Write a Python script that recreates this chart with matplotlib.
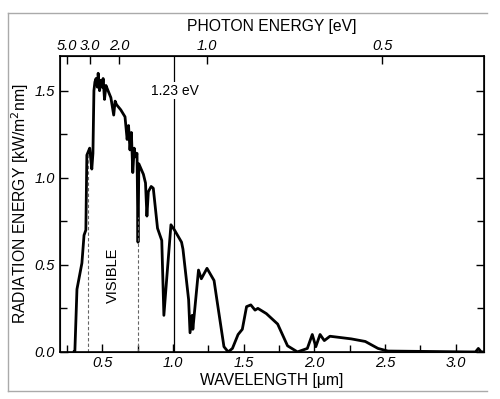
import numpy as np
import matplotlib
matplotlib.use("Agg")
import matplotlib.pyplot as plt
from matplotlib.ticker import MultipleLocator, FixedLocator
from matplotlib.lines import Line2D

plt.rcParams["font.family"] = ["Liberation Sans", "DejaVu Sans"]

# solar spectrum
wavelength = [0.300, 0.305, 0.320, 0.355, 0.370, 0.383, 0.390, 0.400, 0.410, 0.425,
              0.433, 0.440, 0.447, 0.455, 0.465, 0.470, 0.480, 0.490, 0.500, 0.505,
              0.515, 0.525, 0.540, 0.560, 0.580, 0.590, 0.600, 0.630, 0.660, 0.675,
              0.685, 0.695, 0.705, 0.715, 0.725, 0.735, 0.745, 0.752, 0.758, 0.790,
              0.805, 0.815, 0.825, 0.845, 0.860, 0.890, 0.920, 0.935, 0.955, 0.985,
              1.010, 1.060, 1.070, 1.110, 1.120, 1.135, 1.140, 1.180, 1.200, 1.240,
              1.290, 1.310, 1.360, 1.390, 1.420, 1.460, 1.490, 1.520, 1.550, 1.580,
              1.600, 1.660, 1.740, 1.810, 1.880, 1.950, 1.985, 2.010, 2.040, 2.070,
              2.110, 2.260, 2.360, 2.450, 2.520, 3.100, 3.140, 3.160, 3.180, 3.200]
radiation = [0.00, 0.00, 0.36, 0.51, 0.67, 0.70, 1.13, 1.15, 1.17, 1.05,
             1.14, 1.50, 1.55, 1.57, 1.52, 1.60, 1.50, 1.56, 1.52, 1.57,
             1.45, 1.53, 1.50, 1.46, 1.36, 1.44, 1.42, 1.39, 1.35, 1.22,
             1.30, 1.16, 1.26, 1.03, 1.17, 1.12, 1.14, 0.63, 1.08, 1.02,
             0.97, 0.78, 0.92, 0.95, 0.94, 0.71, 0.64, 0.21, 0.42, 0.73,
             0.70, 0.63, 0.59, 0.30, 0.11, 0.21, 0.13, 0.47, 0.42, 0.48,
             0.41, 0.30, 0.03, 0.00, 0.02, 0.10, 0.13, 0.26, 0.27, 0.24,
             0.25, 0.22, 0.16, 0.035, 0.00, 0.02, 0.10, 0.03, 0.10, 0.065,
             0.09, 0.075, 0.06, 0.02, 0.005, 0.00, 0.00, 0.02, 0.00, 0.00]

visible_edges = [0.40, 0.75]
energy_ticks = [5.0, 3.0, 2.0, 1.0, 0.5]
energy_labels = ["5.0", "3.0", "2.0", "1.0", "0.5"]
gap_ev = 1.23
HC = 1.2398  # eV * um

fig = plt.figure(figsize=(5.0, 3.99), dpi=100)
ax = fig.add_axes([0.12, 0.118, 0.848, 0.742])

ax.plot(wavelength, radiation, color="black", lw=2.0)

# visible range markers
for w in visible_edges:
    top = np.interp(w, wavelength, radiation)
    ax.plot([w, w], [0, top], color="#666666", lw=0.8, ls=(0, (3, 2)))
ax.text(0.575, 0.44, "VISIBLE", rotation=90, ha="center", va="center", fontsize=10.5)

# band gap line
ax.axvline(HC / gap_ev, color="black", lw=0.9)
ax.text(1.01, 1.5, "1.23 eV", ha="center", va="center", fontsize=10,
        bbox=dict(facecolor="white", edgecolor="none", pad=1))

ax.set_xlim(0.2, 3.2)
ax.set_ylim(0, 1.7)
ax.xaxis.set_major_locator(FixedLocator([0.5, 1.0, 1.5, 2.0, 2.5, 3.0]))
ax.xaxis.set_minor_locator(MultipleLocator(0.25))
ax.yaxis.set_major_locator(FixedLocator([0.0, 0.5, 1.0, 1.5]))
ax.yaxis.set_minor_locator(MultipleLocator(0.25))
ax.tick_params(which="both", direction="in", top=False, right=True, width=1.0)
ax.tick_params(which="major", length=6, labelsize=10.5)
ax.tick_params(which="minor", length=5)
ax.tick_params(axis="x", pad=3)
for lab in ax.get_xticklabels() + ax.get_yticklabels():
    lab.set_fontstyle("italic")
for s in ax.spines.values():
    s.set_linewidth(1.2)

ax.set_xlabel("WAVELENGTH [\u03bcm]", fontsize=11.3, labelpad=2)
ax.set_ylabel("RADIATION ENERGY [kW/m$^2$nm]", fontsize=11.3, labelpad=3)

# photon energy axis on top
top = ax.twiny()
top.set_xlim(ax.get_xlim())
top.set_xticks([HC / e for e in energy_ticks])
top.set_xticklabels(energy_labels, fontstyle="italic", fontsize=10.5)
top.tick_params(direction="in", length=6, width=1.0, pad=2)
top.set_xlabel("PHOTON ENERGY [eV]", fontsize=11.3, labelpad=6)

# light frame around the figure
frame = "#aaaaaa"
fig.add_artist(Line2D([0.016, 0.974], [0.967, 0.967], color=frame, lw=1.0))
fig.add_artist(Line2D([0.016, 0.016], [0.967, 0.020], color=frame, lw=1.0))
fig.add_artist(Line2D([0.016, 0.974], [0.020, 0.020], color=frame, lw=1.0))

fig.savefig("out.png", dpi=100)
